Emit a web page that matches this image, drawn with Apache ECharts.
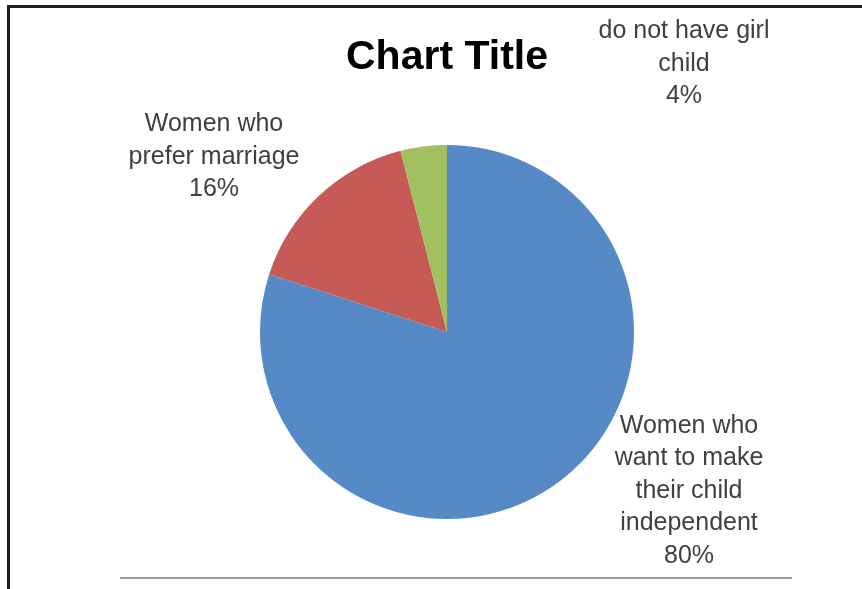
<!DOCTYPE html>
<html>
<head>
<meta charset="utf-8">
<script src="https://cdn.jsdelivr.net/npm/echarts@6/dist/echarts.min.js"></script>
<style>
  html, body { margin: 0; padding: 0; background: #fff; }
  #chart { width: 862px; height: 589px; }
</style>
</head>
<body>
<div id="chart"></div>
<script>
const titleText = 'Chart Title';
const categories = [
  'Women who\nwant to make\ntheir child\nindependent',
  'Women who\nprefer marriage',
  'do not have girl\nchild'
];
const values = [80, 16, 4];
const sliceColors = ['#568ac6', '#c55a56', '#a2c060'];

// label anchor positions (block centre) in pixels
const labelAnchors = [
  { x: 689, y: 491 },
  { x: 214, y: 157 },
  { x: 684, y: 64 }
];

const chart = echarts.init(document.getElementById('chart'), null, { renderer: 'canvas' });

chart.setOption({
  animation: false,
  backgroundColor: '#ffffff',
  title: {
    text: titleText,
    left: 442,
    top: 32,
    textAlign: 'center',
    textStyle: {
      fontFamily: 'Liberation Sans',
      fontWeight: 'bold',
      fontSize: 41,
      color: '#000000'
    }
  },
  graphic: [
    { type: 'rect', shape: { x: 7, y: 5, width: 862, height: 3 }, style: { fill: '#231f20' } },
    { type: 'rect', shape: { x: 7, y: 5, width: 3, height: 600 }, style: { fill: '#231f20' } },
    { type: 'rect', shape: { x: 120, y: 577, width: 672, height: 2 }, style: { fill: '#9a9a9a' } }
  ],
  series: [{
    type: 'pie',
    center: [447, 332],
    radius: 187,
    startAngle: 90,
    clockwise: true,
    data: categories.map((c, i) => ({ name: c, value: values[i], itemStyle: { color: sliceColors[i] } })),
    label: {
      show: true,
      position: 'outside',
      formatter: '{b}\n{d}%',
      fontFamily: 'Liberation Sans',
      fontSize: 25,
      lineHeight: 32.5,
      color: '#404040',
      align: 'center'
    },
    labelLine: { show: false },
    labelLayout: function (params) {
      const a = labelAnchors[params.dataIndex];
      return { x: a.x, y: a.y, align: 'center', verticalAlign: 'middle' };
    },
    emphasis: { disabled: true }
  }]
});
</script>
</body>
</html>
